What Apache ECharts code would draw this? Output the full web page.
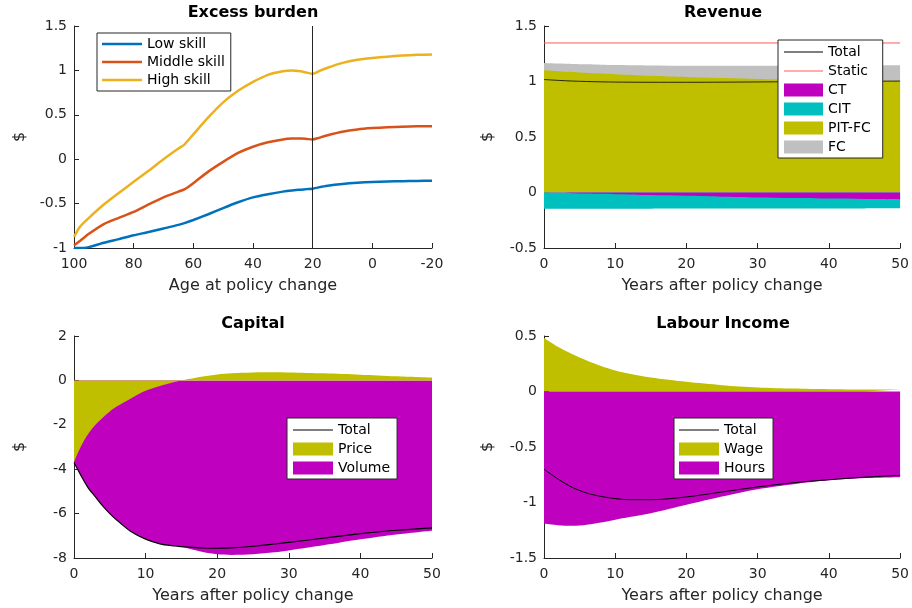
<!DOCTYPE html>
<html>
<head>
<meta charset="utf-8">
<title>Excess burden, revenue, capital, labour income</title>
<script src="https://cdn.jsdelivr.net/npm/echarts@6/dist/echarts.min.js"></script>
<style>
html, body { margin: 0; padding: 0; background: #fff; }
#main { width: 912px; height: 608px; }
</style>
</head>
<body>
<div id="main"></div>
<script>
// ---- data ----

// panel 1: excess burden by age at policy change
var ages = [100, 98, 95, 90, 85, 80, 75, 70, 65, 63, 60, 55, 50, 45, 40, 35, 30, 27, 24, 22, 20, 18, 15, 10, 5, 0, -5, -10, -15, -20];
var lowSkill = [-1.0, -1.0, -0.99, -0.94, -0.9, -0.857, -0.82, -0.78, -0.74, -0.72, -0.685, -0.62, -0.55, -0.485, -0.43, -0.395, -0.365, -0.352, -0.343, -0.337, -0.333, -0.317, -0.298, -0.278, -0.265, -0.257, -0.251, -0.247, -0.245, -0.243];
var middleSkill = [-0.97, -0.92, -0.84, -0.73, -0.66, -0.594, -0.51, -0.43, -0.365, -0.34, -0.27, -0.14, -0.03, 0.07, 0.14, 0.19, 0.222, 0.232, 0.233, 0.228, 0.222, 0.24, 0.27, 0.31, 0.335, 0.35, 0.36, 0.366, 0.37, 0.372];
var highSkill = [-0.875, -0.76, -0.66, -0.51, -0.38, -0.255, -0.13, 0.0, 0.12, 0.165, 0.28, 0.47, 0.64, 0.77, 0.87, 0.95, 0.99, 1.0, 0.99, 0.975, 0.962, 0.99, 1.03, 1.085, 1.12, 1.14, 1.155, 1.167, 1.175, 1.18];
var cohortLine = 20;

// panel 2: revenue
var revYears = [0, 2, 4, 6, 8, 10, 15, 20, 25, 30, 35, 40, 45, 50];
var revCT = [0, -0.003, -0.006, -0.009, -0.012, -0.015, -0.023, -0.03, -0.038, -0.045, -0.05, -0.055, -0.059, -0.062];
var revCIT = [-0.146, -0.143, -0.14, -0.137, -0.134, -0.131, -0.123, -0.115, -0.107, -0.1, -0.094, -0.089, -0.085, -0.081];
var revPIT = [1.101, 1.093, 1.086, 1.078, 1.071, 1.065, 1.051, 1.04, 1.031, 1.023, 1.017, 1.012, 1.008, 1.005];
var revFC = [0.066, 0.069, 0.072, 0.077, 0.081, 0.084, 0.094, 0.103, 0.111, 0.119, 0.126, 0.132, 0.137, 0.141];
var revTotal = [1.018, 1.01, 1.004, 1.0, 0.997, 0.995, 0.993, 0.993, 0.994, 0.996, 0.998, 1.0, 1.002, 1.004];
var staticYears = [0, 50];
var revStatic = [1.347, 1.347];

// panel 3: capital
var capYears = [0, 1, 2, 3, 4, 5, 6, 8, 10, 12, 14, 15, 16, 18, 20, 22, 25, 28, 30, 35, 40, 45, 50];
var capPrice = [-3.67, -2.95, -2.4, -2.0, -1.68, -1.4, -1.17, -0.8, -0.47, -0.25, -0.07, 0.0, 0.06, 0.18, 0.27, 0.32, 0.36, 0.37, 0.36, 0.32, 0.26, 0.19, 0.13];
var capVolume = [-0.03, -1.35, -2.45, -3.25, -3.97, -4.6, -5.13, -6.02, -6.68, -7.11, -7.39, -7.49, -7.57, -7.73, -7.83, -7.86, -7.83, -7.74, -7.66, -7.42, -7.16, -6.94, -6.77];
var capTotal = [-3.7, -4.3, -4.85, -5.25, -5.65, -6.0, -6.3, -6.82, -7.15, -7.36, -7.46, -7.49, -7.51, -7.55, -7.56, -7.54, -7.47, -7.37, -7.3, -7.1, -6.9, -6.75, -6.64];

// panel 4: labour income
var labYears = [0, 2, 4, 6, 8, 10, 12, 15, 20, 25, 30, 35, 40, 45, 50];
var labWage = [0.482, 0.4, 0.335, 0.28, 0.23, 0.19, 0.16, 0.126, 0.087, 0.057, 0.036, 0.026, 0.02, 0.018, 0.017];
var labHours = [-1.19, -1.205, -1.21, -1.2, -1.18, -1.155, -1.13, -1.096, -1.02, -0.946, -0.88, -0.835, -0.8, -0.78, -0.772];
var labTotal = [-0.7, -0.79, -0.865, -0.915, -0.945, -0.965, -0.975, -0.975, -0.95, -0.905, -0.86, -0.822, -0.795, -0.772, -0.755];

// ---- helpers ----
var AX = '#262626';
var OLIVE = '#bfbf00', MAGENTA = '#bf00bf', CYAN = '#00bfbf', GREY = '#c0c0c0';
// thin bar legend icons so line entries show a plain line, no marker
var THIN = 'path://M0,0H40V1H0Z';
var THICK = 'path://M0,0H40V2.5H0Z';

function pairs(xs, ys) {
    return xs.map(function (x, i) { return [x, ys[i]]; });
}
// stacked areas are painted as layers from zero, so the top edge of each
// layer is the running sum of the parts
function addUp(a, b) {
    return a.map(function (v, i) { return v + b[i]; });
}

function xAxis(grid, min, max, interval, name, inverse) {
    return {
        type: 'value', gridIndex: grid, min: min, max: max, interval: interval, inverse: !!inverse,
        name: name, nameLocation: 'middle', nameGap: 30,
        nameTextStyle: { fontSize: 16, color: AX },
        axisLine: { show: true, onZero: false, lineStyle: { color: AX, width: 1 } },
        axisTick: { show: true, inside: true, length: 5, lineStyle: { color: AX } },
        axisLabel: { fontSize: 14, color: AX, margin: 9 },
        splitLine: { show: false }
    };
}

function yAxis(grid, min, max, interval, gap) {
    return {
        type: 'value', gridIndex: grid, min: min, max: max, interval: interval,
        name: '$', nameLocation: 'middle', nameRotate: 90, nameGap: gap,
        nameTextStyle: { fontSize: 16, color: AX },
        axisLine: { show: true, onZero: false, lineStyle: { color: AX, width: 1 } },
        axisTick: { show: true, inside: true, length: 5, lineStyle: { color: AX } },
        axisLabel: { fontSize: 14, color: AX, margin: 7 },
        splitLine: { show: false }
    };
}

function lineSeries(name, grid, xs, ys, color, width, smooth) {
    return {
        name: name, type: 'line', xAxisIndex: grid, yAxisIndex: grid,
        data: pairs(xs, ys), symbol: 'none', smooth: smooth || 0,
        lineStyle: { color: color, width: width }, itemStyle: { color: color }
    };
}

function areaSeries(name, grid, xs, ys, color) {
    return {
        name: name, type: 'line', xAxisIndex: grid, yAxisIndex: grid,
        data: pairs(xs, ys), symbol: 'none', smooth: 0.3,
        lineStyle: { width: 0, color: color }, itemStyle: { color: color },
        areaStyle: { color: color, opacity: 1 }
    };
}

function legendBox(names, left, top, padding, itemWidth, itemHeight, gap) {
    return {
        orient: 'vertical', left: left, top: top, padding: padding,
        itemWidth: itemWidth, itemHeight: itemHeight, itemGap: gap,
        borderColor: AX, borderWidth: 1, backgroundColor: '#fff',
        selectedMode: false,
        textStyle: { fontSize: 14, color: '#000' },
        data: names
    };
}

function titleAt(text, cx, top) {
    return {
        text: text, left: cx, top: top, textAlign: 'center', padding: 0,
        textStyle: { fontSize: 16, fontWeight: 'bold', color: '#000' }
    };
}

var low = lineSeries('Low skill', 0, ages, lowSkill, '#0072bd', 2.5, 0.2);
low.markLine = {
    silent: true, symbol: ['none', 'none'], label: { show: false },
    lineStyle: { color: AX, width: 1, type: 'solid' },
    data: [{ xAxis: cohortLine }]
};

// lower edge of the volume layer: it sits under price only while price is negative
var capVolumeEdge = capPrice.map(function (p, i) { return Math.min(p, 0) + capVolume[i]; });

var option = {
    animation: false,
    backgroundColor: '#fff',
    textStyle: { fontFamily: 'DejaVu Sans' },
    title: [
        titleAt('Excess burden', 253, 5),
        titleAt('Revenue', 723, 5),
        titleAt('Capital', 253, 316),
        titleAt('Labour Income', 723, 316)
    ],
    grid: [
        { left: 74, top: 26, width: 358, height: 222 },
        { left: 544, top: 26, width: 359, height: 222 },
        { left: 74, top: 336, width: 358, height: 222 },
        { left: 544, top: 336, width: 359, height: 222 }
    ],
    xAxis: [
        xAxis(0, -20, 100, 20, 'Age at policy change', true),
        xAxis(1, 0, 50, 10, 'Years after policy change'),
        xAxis(2, 0, 50, 10, 'Years after policy change'),
        xAxis(3, 0, 50, 10, 'Years after policy change')
    ],
    yAxis: [
        yAxis(0, -1, 1.5, 0.5, 46),
        yAxis(1, -0.5, 1.5, 0.5, 48),
        yAxis(2, -8, 2, 2, 46),
        yAxis(3, -1.5, 0.5, 0.5, 48)
    ],
    legend: [
        legendBox([{ name: 'Low skill', icon: THICK }, { name: 'Middle skill', icon: THICK },
            { name: 'High skill', icon: THICK }], 97, 33, [4, 6, 4, 5], 40, 14, 4),
        legendBox([{ name: 'Total', icon: THIN }, { name: 'Static', icon: THIN },
            { name: 'CT', icon: 'rect' }, { name: 'CIT', icon: 'rect' },
            { name: 'PIT-FC', icon: 'rect' }, { name: 'FC', icon: 'rect' }],
            778, 40, [5, 12, 4, 6], 39, 13, 5),
        legendBox([{ name: 'Total', icon: THIN }, { name: 'Price', icon: 'rect' },
            { name: 'Volume', icon: 'rect' }], 287, 418, [5, 7, 4, 6], 40, 13, 5),
        legendBox([{ name: 'Total', icon: THIN }, { name: 'Wage', icon: 'rect' },
            { name: 'Hours', icon: 'rect' }], 674, 418, [5, 8, 4, 5], 40, 13, 5)
    ],
    series: [
        low,
        lineSeries('Middle skill', 0, ages, middleSkill, '#d95319', 2.5, 0.2),
        lineSeries('High skill', 0, ages, highSkill, '#edb120', 2.5, 0.2),

        areaSeries('FC', 1, revYears, addUp(revPIT, revFC), GREY),
        areaSeries('PIT-FC', 1, revYears, revPIT, OLIVE),
        areaSeries('CIT', 1, revYears, addUp(revCT, revCIT), CYAN),
        areaSeries('CT', 1, revYears, revCT, MAGENTA),
        lineSeries('Total', 1, revYears, revTotal, '#000', 0.8, 0.3),
        lineSeries('Static', 1, staticYears, revStatic, '#ff5a5a', 1),

        areaSeries('Volume', 2, capYears, capVolumeEdge, MAGENTA),
        areaSeries('Price', 2, capYears, capPrice, OLIVE),
        lineSeries('Total', 2, capYears, capTotal, '#000', 1.2, 0.3),

        areaSeries('Wage', 3, labYears, labWage, OLIVE),
        areaSeries('Hours', 3, labYears, labHours, MAGENTA),
        lineSeries('Total', 3, labYears, labTotal, '#000', 1, 0.3)
    ]
};

var chart = echarts.init(document.getElementById('main'));
chart.setOption(option);
</script>
</body>
</html>
